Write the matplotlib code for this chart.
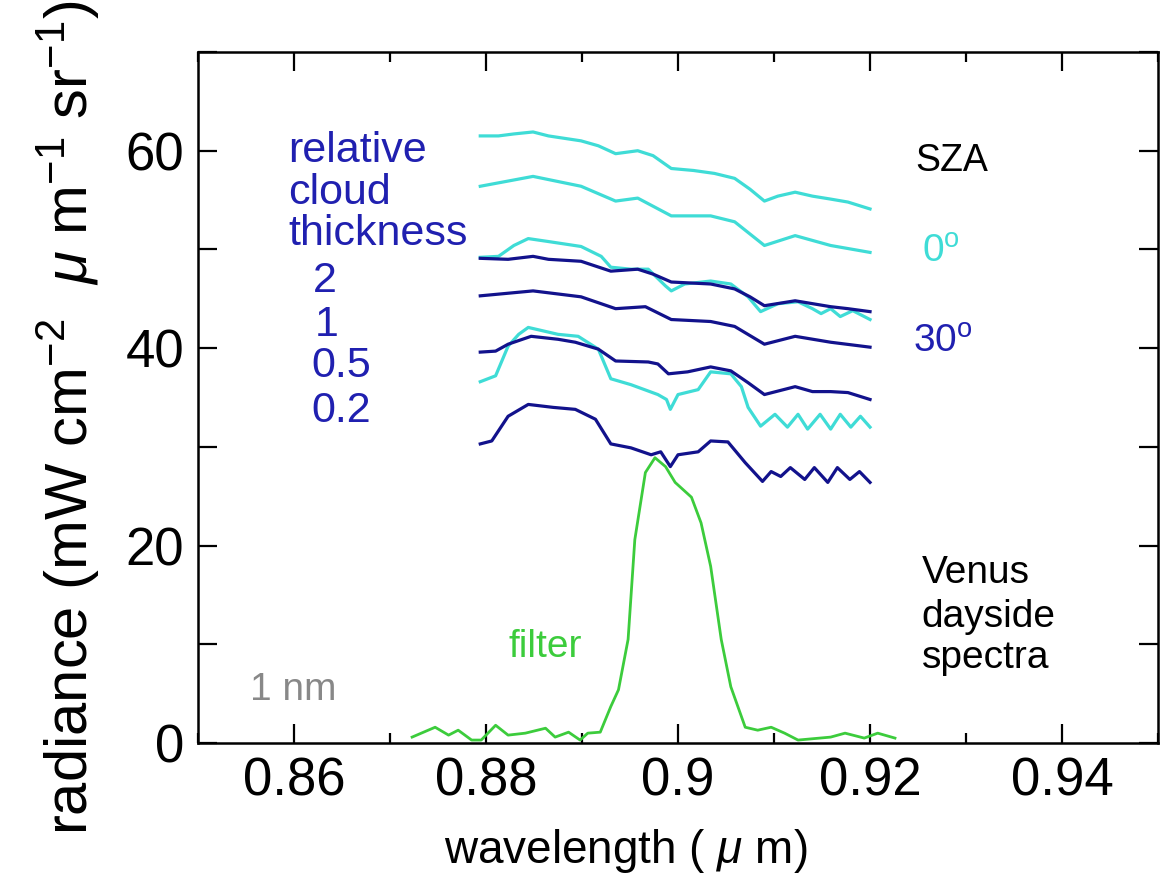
import numpy as np
import matplotlib.pyplot as plt
from matplotlib.ticker import MultipleLocator, FuncFormatter

plt.rcParams['font.family'] = ['Liberation Sans', 'DejaVu Sans']
plt.rcParams['mathtext.fontset'] = 'custom'
plt.rcParams['mathtext.rm'] = 'Liberation Sans'
plt.rcParams['mathtext.it'] = 'Liberation Sans:italic'

# colores
cyan = '#3fdcd6'
navy = '#12128c'
azul_txt = '#2020b0'
verde = '#3ccc3c'

# SZA 0 (cian), espesor relativo 2, 1, 0.5, 0.2
x_c2 = [0.8794, 0.8813, 0.8829, 0.8849, 0.8865, 0.8899, 0.8917, 0.8935, 0.8958, 0.8974, 0.8993,
        0.9016, 0.9038, 0.9059, 0.9075, 0.9090, 0.9104, 0.9122, 0.9140, 0.9159, 0.9177, 0.9200]
y_c2 = [61.5, 61.5, 61.7, 61.9, 61.5, 61.0, 60.5, 59.7, 60.0, 59.5, 58.2,
        58.0, 57.7, 57.2, 56.1, 54.9, 55.4, 55.8, 55.4, 55.1, 54.8, 54.1]

x_c1 = [0.8794, 0.8849, 0.8899, 0.8935, 0.8958, 0.8993, 0.9034, 0.9059, 0.9090, 0.9122, 0.9159, 0.9200]
y_c1 = [56.4, 57.4, 56.4, 54.9, 55.2, 53.4, 53.4, 52.8, 50.4, 51.4, 50.4, 49.7]

x_c05 = [0.8794, 0.8813, 0.8829, 0.8844, 0.8865, 0.8899, 0.8920, 0.8930, 0.8951, 0.8969, 0.8987,
         0.8993, 0.9007, 0.9034, 0.9055, 0.9073, 0.9086, 0.9104, 0.9125, 0.9140, 0.9149, 0.9159,
         0.9169, 0.9182, 0.9200]
y_c05 = [49.2, 49.3, 50.4, 51.1, 50.8, 50.3, 49.3, 48.2, 48.0, 48.0, 46.3,
         45.8, 46.5, 46.8, 46.5, 45.2, 43.7, 44.5, 44.7, 44.0, 43.5, 44.0,
         43.2, 43.8, 42.9]

x_c02 = [0.8794, 0.8810, 0.8823, 0.8834, 0.8844, 0.8875, 0.8896, 0.8917, 0.8930, 0.8951, 0.8979,
         0.8988, 0.8992, 0.9000, 0.9021, 0.9034, 0.9055, 0.9066, 0.9073, 0.9086, 0.9101, 0.9114,
         0.9125, 0.9135, 0.9148, 0.9159, 0.9169, 0.9180, 0.9190, 0.9200]
y_c02 = [36.6, 37.2, 40.2, 41.4, 42.1, 41.4, 41.2, 39.9, 36.9, 36.3, 35.3,
         34.8, 33.8, 35.3, 35.8, 37.6, 37.4, 36.1, 34.0, 32.1, 33.3, 32.0,
         33.3, 31.8, 33.3, 31.8, 33.3, 32.0, 33.1, 32.0]

# SZA 30 (azul oscuro)
x_n2 = [0.8794, 0.8823, 0.8849, 0.8865, 0.8899, 0.8930, 0.8958, 0.8974, 0.8993, 0.9034, 0.9059,
        0.9075, 0.9090, 0.9122, 0.9159, 0.9177, 0.9200]
y_n2 = [49.1, 49.0, 49.3, 49.0, 48.8, 47.8, 48.0, 47.5, 46.7, 46.5, 46.0,
        45.2, 44.3, 44.8, 44.2, 44.0, 43.7]

x_n1 = [0.8794, 0.8849, 0.8899, 0.8935, 0.8966, 0.8993, 0.9034, 0.9059, 0.9090, 0.9122, 0.9159, 0.9200]
y_n1 = [45.3, 45.8, 45.2, 44.0, 44.2, 42.9, 42.7, 42.2, 40.4, 41.2, 40.6, 40.1]

x_n05 = [0.8794, 0.8810, 0.8823, 0.8847, 0.8875, 0.8893, 0.8917, 0.8935, 0.8969, 0.8979, 0.8990,
         0.9010, 0.9034, 0.9055, 0.9073, 0.9090, 0.9122, 0.9140, 0.9159, 0.9177, 0.9200]
y_n05 = [39.6, 39.7, 40.4, 41.2, 40.9, 40.6, 39.9, 38.7, 38.6, 38.4, 37.4,
         37.6, 38.1, 37.7, 36.5, 35.3, 36.1, 35.6, 35.6, 35.5, 34.8]

x_n02 = [0.8794, 0.8806, 0.8823, 0.8844, 0.8870, 0.8893, 0.8914, 0.8930, 0.8951, 0.8972, 0.8982,
         0.8992, 0.9000, 0.9021, 0.9034, 0.9052, 0.9070, 0.9088, 0.9097, 0.9107, 0.9117, 0.9132,
         0.9142, 0.9156, 0.9166, 0.9179, 0.9189, 0.9200]
y_n02 = [30.3, 30.6, 33.1, 34.3, 34.0, 33.8, 32.8, 30.3, 29.9, 29.2, 29.5,
         28.0, 29.2, 29.5, 30.6, 30.5, 28.4, 26.5, 27.5, 27.0, 27.9, 26.7,
         27.9, 26.4, 27.9, 26.7, 27.5, 26.4]

# transmision del filtro (escala arbitraria)
x_f = [0.8723, 0.8747, 0.8761, 0.8771, 0.8785, 0.8795, 0.8810, 0.8823, 0.8841, 0.8862, 0.8872,
       0.8886, 0.8898, 0.8906, 0.8919, 0.8930, 0.8938, 0.8948, 0.8955, 0.8966, 0.8976, 0.8987,
       0.8997, 0.9014, 0.9024, 0.9034, 0.9045, 0.9055, 0.9070, 0.9083, 0.9097, 0.9111, 0.9125,
       0.9159, 0.9174, 0.9194, 0.9208, 0.9226]
y_f = [0.6, 1.6, 0.8, 1.3, 0.3, 0.3, 1.8, 0.8, 1.0, 1.5, 0.6,
       1.1, 0.3, 1.0, 1.1, 3.7, 5.4, 10.5, 20.6, 27.4, 28.9, 28.0,
       26.4, 24.9, 22.3, 17.9, 10.5, 5.7, 1.6, 1.3, 1.6, 1.0, 0.3,
       0.6, 1.0, 0.5, 1.0, 0.5]

fig = plt.figure(figsize=(11.6, 8.89), dpi=100)
ax = fig.add_axes([0.1707, 0.1642, 0.8276, 0.7773])

lw = 2.3
ax.plot(x_c2, y_c2, color=cyan, lw=lw)
ax.plot(x_c1, y_c1, color=cyan, lw=lw)
ax.plot(x_c05, y_c05, color=cyan, lw=lw)
ax.plot(x_c02, y_c02, color=cyan, lw=lw)
ax.plot(x_n2, y_n2, color=navy, lw=lw)
ax.plot(x_n1, y_n1, color=navy, lw=lw)
ax.plot(x_n05, y_n05, color=navy, lw=lw)
ax.plot(x_n02, y_n02, color=navy, lw=lw)
ax.plot(x_f, y_f, color=verde, lw=2.0)

ax.set_xlim(0.85, 0.95)
ax.set_ylim(0, 70)
ax.xaxis.set_major_locator(MultipleLocator(0.02))
ax.xaxis.set_minor_locator(MultipleLocator(0.01))
ax.xaxis.set_major_formatter(FuncFormatter(lambda v, p: f'{v:g}'))
ax.yaxis.set_major_locator(MultipleLocator(20))
ax.yaxis.set_minor_locator(MultipleLocator(10))
ax.tick_params(which='both', direction='in', top=True, right=True, width=1.6)
ax.tick_params(which='major', length=14, labelsize=38, pad=10)
ax.tick_params(axis='x', which='minor', length=7)
ax.tick_params(axis='y', which='minor', length=14)
for s in ax.spines.values():
    s.set_linewidth(1.8)

ax.set_xlabel(r'wavelength ( $\mu$ m)', fontsize=33)
ax.xaxis.set_label_coords(0.445, -0.122)
ax.set_ylabel(r'radiance (mW cm$^{-2}$  $\mu$ m$^{-1}$ sr$^{-1}$)', fontsize=43)
ax.yaxis.set_label_coords(-0.10, 0.47)

fs = 31
ax.text(0.8594, 58.9, 'relative', color=azul_txt, fontsize=fs)
ax.text(0.8594, 54.6, 'cloud', color=azul_txt, fontsize=fs)
ax.text(0.8594, 50.4, 'thickness', color=azul_txt, fontsize=fs)
ax.text(0.8620, 45.7, '2', color=azul_txt, fontsize=fs)
ax.text(0.8622, 41.2, '1', color=azul_txt, fontsize=fs)
ax.text(0.8618, 37.1, '0.5', color=azul_txt, fontsize=fs)
ax.text(0.8618, 32.5, '0.2', color=azul_txt, fontsize=fs)

fs2 = 28
ax.text(0.9247, 57.9, 'SZA', color='black', fontsize=27)
ax.text(0.9254, 48.8, r'0$^{\rm o}$', color=cyan, fontsize=fs2)
ax.text(0.9245, 39.6, r'30$^{\rm o}$', color=azul_txt, fontsize=fs2)

ax.text(0.9254, 16.2, 'Venus', color='black', fontsize=fs2)
ax.text(0.9254, 11.8, 'dayside', color='black', fontsize=fs2)
ax.text(0.9254, 7.6, 'spectra', color='black', fontsize=fs2)

ax.text(0.8823, 8.7, 'filter', color=verde, fontsize=fs2)
ax.text(0.8554, 4.4, '1 nm', color='#888888', fontsize=fs2)

plt.savefig('out.png', dpi=100)
